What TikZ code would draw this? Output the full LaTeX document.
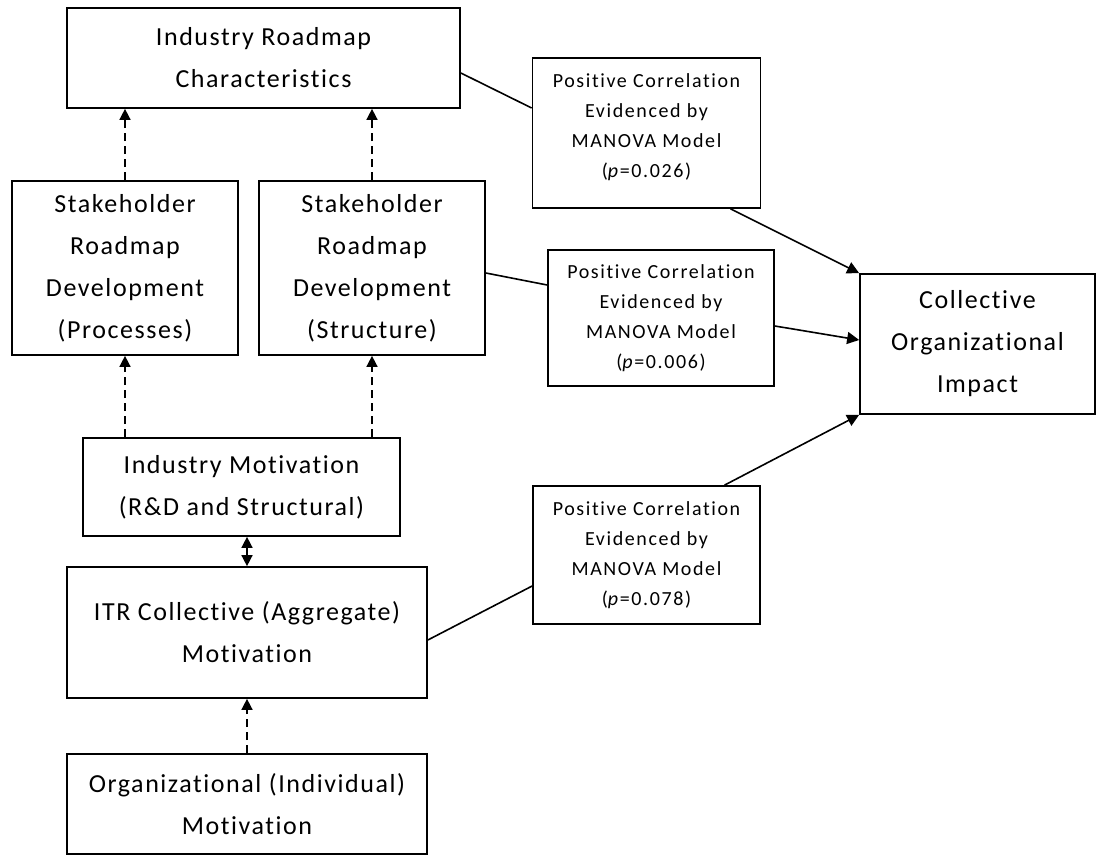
\documentclass[tikz,border=0pt]{standalone}
\usepackage{fontspec}
\setmainfont{Carlito}[LetterSpace=6,Ligatures=NoCommon]
\newfontfamily\corrfont{Carlito}[LetterSpace=8,Ligatures=NoCommon]
\usetikzlibrary{arrows.meta,calc}

\begin{document}
\begin{tikzpicture}[x=1pt,y=-1pt,
	box/.style={draw, line width=1.7pt, align=center, inner sep=0pt, font=\fontsize{26}{42}\selectfont},
	corr/.style={draw, line width=1.7pt, align=center, inner sep=0pt, font=\corrfont\fontsize{20}{30}\selectfont},
	link/.style={line width=1.6pt},
	solarr/.style={line width=1.6pt, -{Triangle[length=12pt,width=12pt]}},
	dasharr/.style={line width=1.5pt, dash pattern=on 8pt off 5pt, -{Triangle[length=11pt,width=11pt]}},
	twoarr/.style={line width=1.5pt, dash pattern=on 8pt off 5pt, {Triangle[length=11pt,width=11pt]}-{Triangle[length=11pt,width=11pt]}}]
	\useasboundingbox (0,0) rectangle (1097,856);
	% Roadmap boxes
	\node[box, minimum width=393, minimum height=100] (irc) at (263.5,58) {Industry Roadmap\\Characteristics};
	\node[box, minimum width=226, minimum height=174] (proc) at (125,268) {Stakeholder\\Roadmap\\Development\\(Processes)};
	\node[box, minimum width=226, minimum height=174] (struc) at (372,268) {Stakeholder\\Roadmap\\Development\\(Structure)};
	% Motivation boxes
	\node[box, minimum width=317, minimum height=98] (indmot) at (241.5,487) {Industry Motivation\\(R\&D and Structural)};
	\node[box, minimum width=360, minimum height=131] (itr) at (247,632.5) {ITR Collective (Aggregate)\\Motivation};
	\node[box, minimum width=360, minimum height=100] (org) at (247,804) {Organizational (Individual)\\Motivation};
	% MANOVA results and impact
	\node[corr, minimum width=228, minimum height=150] (corra) at (646.5,133) {Positive Correlation\\Evidenced by\\MANOVA Model\\(\textit{p}=0.026)\\[-16pt]};
	\node[corr, minimum width=226, minimum height=136] (corrb) at (661,318) {Positive Correlation\\Evidenced by\\MANOVA Model\\(\textit{p}=0.006)};
	\node[corr, minimum width=227, minimum height=138] (corrc) at (646.5,555) {Positive Correlation\\Evidenced by\\MANOVA Model\\(\textit{p}=0.078)};
	\node[box, minimum width=235, minimum height=140] (impact) at (977.5,344) {Collective\\Organizational\\Impact};
	% dashed links up the left column
	\draw[dasharr] (proc.north) -- (proc.north |- irc.south);
	\draw[dasharr] (struc.north) -- (struc.north |- irc.south);
	\draw[dasharr] (indmot.north -| proc) -- (proc.south);
	\draw[dasharr] (indmot.north -| struc) -- (struc.south);
	\draw[twoarr] (itr.north |- indmot.south) -- (itr.north);
	\draw[dasharr] (org.north) -- (itr.south);
	% correlations to impact
	\draw[link] ([yshift=-15]irc.east) -- ([yshift=25]corra.west);
	\draw[solarr] ([xshift=84]corra.south) -- (impact.north west);
	\draw[link] ([yshift=-5]struc.east) -- ([yshift=33]corrb.west);
	\draw[solarr] ([yshift=-8]corrb.east) -- ([yshift=4]impact.west);
	\draw[link] ([yshift=-7.5]itr.east) -- ([yshift=-31]corrc.west);
	\draw[solarr] ([xshift=78]corrc.north) -- (impact.south west);
\end{tikzpicture}
\end{document}
